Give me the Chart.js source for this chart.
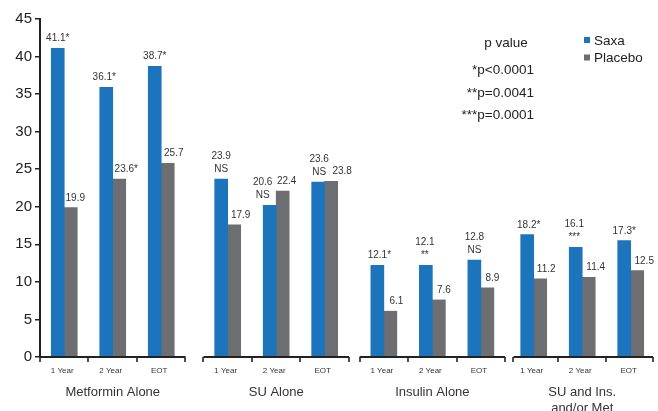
<!DOCTYPE html>
<html><head><meta charset="utf-8">
<script src="https://cdn.jsdelivr.net/npm/chart.js@4/dist/chart.umd.min.js"></script>
<style>html,body{margin:0;padding:0;background:#fff}#wrap{width:658px;height:411px}</style>
</head><body><div id="wrap"><canvas id="c" width="658" height="411"></canvas></div>
<script>
// ---- data ----
const groups = ["Metformin Alone", "SU Alone", "Insulin Alone", "SU and Ins.\nand/or Met"];
const periods = ["1 Year", "2 Year", "EOT"];
const seriesNames = ["Saxa", "Placebo"];
const saxaValues = [41.1, 35.9, 38.7, 23.7, 20.2, 23.3, 12.2, 12.2, 12.9, 16.3, 14.6, 15.5];
const placeboValues = [19.9, 23.7, 25.8, 17.6, 22.1, 23.4, 6.1, 7.6, 9.2, 10.4, 10.6, 11.5];
const saxaLabels = ["41.1*", "36.1*", "38.7*", "23.9\nNS", "20.6\nNS", "23.6\nNS", "12.1*", "12.1\n**", "12.8\nNS", "18.2*", "16.1\n***", "17.3*"];
const placeboLabels = ["19.9", "23.6*", "25.7", "17.9", "22.4", "23.8", "6.1", "7.6", "8.9", "11.2", "11.4", "12.5"];
const yMin = 0, yMax = 45, yStep = 5;
const pValueNotes = ["p value", "*p<0.0001", "**p=0.0041", "***p=0.0001"];

// ---- layout / style ----
const GROUP_BASE = [0, 3.37, 6.59, 9.68];
const LABEL_DX = [[0, -2, 0, 0, -7, 1, 2, -1, 0, 1.5, -1.5, 0], [4.5, 7, 6, 6.5, 4, 11, 6, 5, 5, 6, 7, 7]];
const BLUE = "#1c74bd", GRAY = "#6d6e71", INK = "#222", TXT = "#333";
const FONT = "'Liberation Sans', Arial, Helvetica, sans-serif";

const xPos = [];
groups.forEach((g, gi) => periods.forEach((p, pi) => xPos.push(GROUP_BASE[gi] + pi)));

const decor = {
  id: 'decor',
  afterDraw(chart) {
    const ctx = chart.ctx, xs = chart.scales.x, ca = chart.chartArea;
    const base = ca.bottom;
    ctx.save();
    ctx.strokeStyle = INK;
    groups.forEach((g, gi) => {
      const b = GROUP_BASE[gi];
      const x0 = xs.getPixelForValue(b - 0.5) + (gi === 3 ? 4 : 0), x1 = xs.getPixelForValue(b + 2.5) - (gi === 3 ? 2 : 0);
      ctx.lineWidth = 2;
      ctx.beginPath(); ctx.moveTo(x0, base); ctx.lineTo(x1, base); ctx.stroke();
      ctx.lineWidth = 1.6;
      const tk = [x0, xs.getPixelForValue(b + 0.5), xs.getPixelForValue(b + 1.5), x1];
      tk.forEach(t => {
        const tx = Math.round(t);
        ctx.beginPath(); ctx.moveTo(tx, base); ctx.lineTo(tx, base + 5); ctx.stroke();
      });
      ctx.fillStyle = TXT; ctx.textAlign = 'center'; ctx.textBaseline = 'middle';
      ctx.font = "8px " + FONT;
      periods.forEach((p, pi) => ctx.fillText(p, xs.getPixelForValue(b + pi) - 2, base + 14));
      ctx.font = "13px " + FONT;
      const cx = xs.getPixelForValue(b + 1);
      groups[gi].split("\n").forEach((line, li) => ctx.fillText(line, cx, base + 35 + li * 16));
    });
    // bar value labels
    ctx.font = "10px " + FONT; ctx.fillStyle = TXT; ctx.textAlign = 'center'; ctx.textBaseline = 'alphabetic';
    [saxaLabels, placeboLabels].forEach((labels, di) => {
      const meta = chart.getDatasetMeta(di);
      meta.data.forEach((el, i) => {
        const lines = labels[i].split("\n");
        const dx = LABEL_DX[di][i];
        for (let li = lines.length - 1, k = 0; li >= 0; li--, k++) {
          ctx.fillText(lines[li], el.x + dx, el.y - 7 - k * 13);
        }
      });
    });
    // legend
    ctx.font = "13.5px " + FONT; ctx.textAlign = 'left'; ctx.textBaseline = 'alphabetic';
    [BLUE, GRAY].forEach((c, i) => {
      ctx.fillStyle = c; ctx.fillRect(584, 37 + i * 17.5, 6, 6);
      ctx.fillStyle = INK; ctx.fillText(chart.data.datasets[i].label, 594, 44.5 + i * 17.5);
    });
    // p-value notes
    ctx.fillStyle = INK;
    ctx.textAlign = 'center'; ctx.fillText(pValueNotes[0], 506, 47);
    ctx.textAlign = 'right';
    for (let i = 1; i < pValueNotes.length; i++) ctx.fillText(pValueNotes[i], 534, 74 + (i - 1) * 22.7);
    ctx.restore();
  }
};

new Chart(document.getElementById('c'), {
  type: 'bar',
  data: {
    datasets: [
      { label: seriesNames[0], data: saxaValues.map((v, i) => ({ x: xPos[i], y: v })), backgroundColor: BLUE, barThickness: 13 },
      { label: seriesNames[1], data: placeboValues.map((v, i) => ({ x: xPos[i], y: v })), backgroundColor: GRAY, barThickness: 13 }
    ]
  },
  options: {
    responsive: false, animation: false, devicePixelRatio: 1,
    layout: { padding: { top: 19, right: 4, bottom: 54, left: 0 } },
    plugins: { legend: { display: false }, tooltip: { enabled: false } },
    scales: {
      x: { type: 'linear', min: -0.5, max: 12.16, offset: false, display: false },
      y: {
        min: yMin, max: yMax,
        ticks: { stepSize: yStep, color: INK, font: { family: FONT, size: 15 }, padding: 3 },
        grid: { drawOnChartArea: false, tickLength: 5, color: INK, lineWidth: 1.5 },
        border: { display: true, color: INK, width: 2 },
        afterFit(s) { s.width = 40; }
      }
    }
  },
  plugins: [decor]
});
</script></body></html>
